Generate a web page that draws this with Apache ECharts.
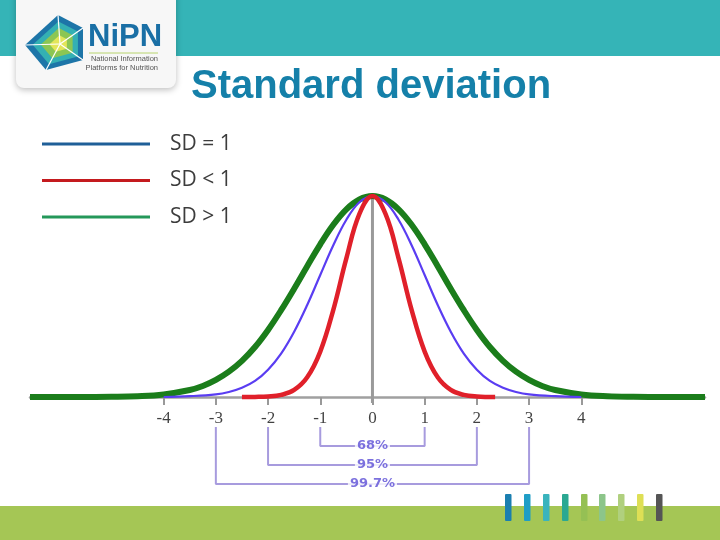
<!DOCTYPE html>
<html>
<head>
<meta charset="utf-8">
<script src="https://cdn.jsdelivr.net/npm/echarts@6/dist/echarts.min.js"></script>
<style>html,body{margin:0;padding:0;background:#fff}#chart{width:720px;height:540px}</style>
</head>
<body>
<div id="chart"></div>
<script>
// ---- data (peak height = 1) ----
const xTicks = [-4, -3, -2, -1, 0, 1, 2, 3, 4];

const sdGt1X = [-6.56, -5.5, -5, -4.5, -4, -3.5, -3.25, -3, -2.75, -2.5, -2.25, -2, -1.75, -1.5, -1.25, -1, -0.75, -0.5, -0.25, 0,
                0.25, 0.5, 0.75, 1, 1.25, 1.5, 1.75, 2, 2.25, 2.5, 2.75, 3, 3.25, 3.5, 4, 4.5, 5, 5.5, 6.37];
const sdGt1Y = [0, 0.0002, 0.001, 0.004, 0.013, 0.035, 0.055, 0.085, 0.126, 0.18, 0.249, 0.334, 0.432, 0.539, 0.651, 0.76, 0.857, 0.934, 0.983, 1,
                0.983, 0.934, 0.857, 0.76, 0.651, 0.539, 0.432, 0.334, 0.249, 0.18, 0.126, 0.085, 0.055, 0.035, 0.013, 0.004, 0.001, 0.0002, 0];

const sdEq1X = [-4, -3.5, -3, -2.75, -2.5, -2.25, -2, -1.75, -1.5, -1.25, -1, -0.75, -0.5, -0.25, 0,
                0.25, 0.5, 0.75, 1, 1.25, 1.5, 1.75, 2, 2.25, 2.5, 2.75, 3, 3.5, 4];
const sdEq1Y = [0, 0.004, 0.013, 0.025, 0.046, 0.08, 0.136, 0.216, 0.325, 0.458, 0.607, 0.755, 0.882, 0.969, 1,
                0.969, 0.882, 0.755, 0.607, 0.458, 0.325, 0.216, 0.136, 0.08, 0.046, 0.025, 0.013, 0.004, 0];

const sdLt1X = [-2.5, -2.25, -2, -1.75, -1.5, -1.25, -1, -0.75, -0.5, -0.25, 0,
                0.25, 0.5, 0.75, 1, 1.25, 1.5, 1.75, 2, 2.35];
const sdLt1Y = [0, 0.0005, 0.0026, 0.0106, 0.035, 0.098, 0.226, 0.434, 0.69, 0.911, 1,
                0.911, 0.69, 0.434, 0.226, 0.098, 0.035, 0.0106, 0.0026, 0];

// coverage brackets
const bracketSd = [1, 2, 3];
const bracketLabels = ['68%', '95%', '99.7%'];
const bracketLevel = [-0.244, -0.338, -0.433];
const bracketTop = -0.149;

const zip = (xs, ys) => xs.map((x, i) => [x, ys[i]]);

const bracketSeries = bracketSd.map((s, i) => ({
  name: 'br' + i,
  type: 'line',
  data: [[-s, bracketTop], [-s, bracketLevel[i]], [s, bracketLevel[i]], [s, bracketTop]],
  symbol: 'none',
  lineStyle: { color: '#a79bde', width: 2 },
  silent: true,
  z: 3
}));

const chart = echarts.init(document.getElementById('chart'), null, { renderer: 'canvas' });

const iconC = [60, 44];
const iconV = [[25, 45], [58, 15], [83, 28], [83, 60], [46, 70]];
const scalePoly = k => iconV.map(p => [iconC[0] + k * (p[0] - iconC[0]), iconC[1] + k * (p[1] - iconC[1])]);
const barColors = ['#1a7fb0', '#1f9ec6', '#3ab4bd', '#2ba892', '#95c054', '#8cc58a', '#b0d07e', '#dedf55', '#555555'];
const barX = [505, 524, 543, 562, 581, 599, 618, 637, 656];

const graphics = [
  { type: 'rect', shape: { x: 0, y: 0, width: 720, height: 56 }, style: { fill: '#35b4b7' }, z: -10 },
  { type: 'rect', shape: { x: 0, y: 506, width: 720, height: 34 }, style: { fill: '#a5c655' }, z: -10 },
  { type: 'rect', shape: { x: 16, y: -8, width: 160, height: 96, r: [0, 0, 8, 8] },
    style: { fill: '#f7f7f7', shadowBlur: 6, shadowColor: 'rgba(0,0,0,0.25)', shadowOffsetY: 2 }, z: -5 },
  { type: 'polygon', shape: { points: iconV }, style: { fill: '#1d75a8' }, z: -4 },
  { type: 'polygon', shape: { points: scalePoly(0.78) }, style: { fill: '#34b0b3' }, z: -4 },
  { type: 'polygon', shape: { points: scalePoly(0.55) }, style: { fill: '#8cc653' }, z: -4 },
  { type: 'polygon', shape: { points: scalePoly(0.3) }, style: { fill: '#e3e65a' }, z: -4 },
  ...iconV.map(p => ({ type: 'line', shape: { x1: iconC[0], y1: iconC[1], x2: p[0], y2: p[1] }, style: { stroke: '#ffffff', lineWidth: 1.2 }, z: -3 })),
  { type: 'text', style: { x: 88, y: 22, text: 'NiPN', fill: '#1a6fa5', font: 'bold 31px "Liberation Sans"' }, z: -3 },
  { type: 'line', shape: { x1: 89, y1: 53, x2: 158, y2: 53 }, style: { stroke: '#b8d46e', lineWidth: 1 }, z: -3 },
  { type: 'text', style: { x: 158, y: 55, text: 'National Information', fill: '#555', font: '7.5px "Liberation Sans"', align: 'right' }, z: -3 },
  { type: 'text', style: { x: 158, y: 63.5, text: 'Platforms for Nutrition', fill: '#555', font: '7.5px "Liberation Sans"', align: 'right' }, z: -3 },
  ...barX.map((x, i) => ({ type: 'rect', shape: { x: x, y: 494, width: 6.5, height: 27, r: 1 }, style: { fill: barColors[i] }, z: -2 }))
];

chart.setOption({
  animation: false,
  backgroundColor: '#ffffff',
  title: {
    text: 'Standard deviation',
    left: 186, top: 62,
    textStyle: { fontFamily: 'Liberation Sans', fontWeight: 'bold', fontSize: 40, color: '#1580a9' }
  },
  legend: {
    orient: 'vertical', left: 37, top: 128,
    itemWidth: 108, itemHeight: 3, itemGap: 14.5, icon: 'rect',
    data: [
      { name: 'SD = 1', itemStyle: { color: '#1f5f98' } },
      { name: 'SD < 1', itemStyle: { color: '#c41a1e' } },
      { name: 'SD > 1', itemStyle: { color: '#24985a' } }
    ],
    textStyle: { fontFamily: 'Open Sans', fontSize: 21, color: '#3c3c3c', lineHeight: 22, padding: [0, 0, 0, 15] }
  },
  graphic: graphics,
  grid: { left: 30, right: 15, top: 186, bottom: 42.5, containLabel: false },
  xAxis: {
    type: 'value', min: -6.56, max: 6.37,
    axisLine: { onZero: true, lineStyle: { color: '#a0a0a0', width: 2.5 } },
    axisTick: { show: true, customValues: xTicks, length: 8, lineStyle: { color: '#999', width: 2 } },
    axisLabel: { show: false },
    splitLine: { show: false }
  },
  yAxis: { type: 'value', min: -0.5, max: 1.05, show: false, splitLine: { show: false } },
  series: [
    { name: 'zero', type: 'line', data: [[0, -0.03], [0, 0.99]], symbol: 'none', lineStyle: { color: '#9a9a9a', width: 3 }, silent: true, z: 1 },
    { name: 'tickLabels', type: 'scatter', symbolSize: 0, silent: true, z: 5,
      data: xTicks.map(v => [v, 0]),
      label: { show: true, position: 'bottom', distance: 13, formatter: p => String(p.data[0]),
        fontFamily: 'Liberation Serif', fontSize: 17, color: '#111' } },
    { name: 'SD > 1', type: 'line', data: zip(sdGt1X, sdGt1Y), smooth: 0.4, symbol: 'none', color: '#1b7d1b',
      lineStyle: { color: '#1b7d1b', width: 6 }, z: 2 },
    { name: 'SD = 1', type: 'line', data: zip(sdEq1X, sdEq1Y), smooth: 0.4, symbol: 'none', color: '#5a3df2',
      lineStyle: { color: '#5a3df2', width: 2.2 }, z: 3 },
    { name: 'SD < 1', type: 'line', data: zip(sdLt1X, sdLt1Y), smooth: 0.4, symbol: 'none', color: '#e0202a',
      lineStyle: { color: '#e0202a', width: 4.5 }, z: 4 },
    ...bracketSeries,
    { name: 'brLabels', type: 'scatter', symbolSize: 0, silent: true, z: 5,
      data: bracketLabels.map((t, i) => [0, bracketLevel[i], t]),
      label: { show: true, position: 'inside', formatter: p => p.data[2], color: '#5b4ed6', fontWeight: 'bold',
        fontFamily: 'DejaVu Sans', fontSize: 13, backgroundColor: '#ffffff', padding: [0, 2] } }
  ]
});
</script>
</body>
</html>
